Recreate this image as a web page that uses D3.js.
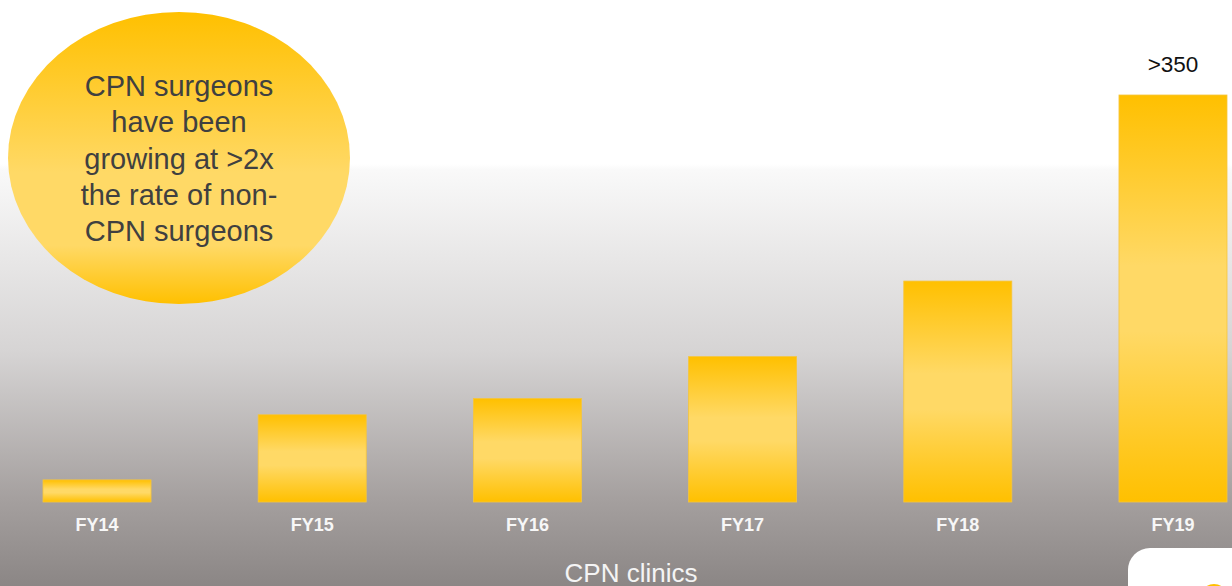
<!DOCTYPE html>
<html>
<head>
<meta charset="utf-8">
<script src="https://cdn.jsdelivr.net/npm/d3@7"></script>
<style>
  html, body { margin: 0; padding: 0; overflow: hidden; }
  svg { display: block; font-family: "Liberation Sans", Arial, sans-serif; }
</style>
</head>
<body>
<svg id="chart" width="1232" height="586"></svg>
<script>
// values (only FY19 is labelled: ">350")
const years = ["FY14", "FY15", "FY16", "FY17", "FY18", "FY19"];
const surgeons = [19, 75, 89, 125, 190, 350];
const topLabel = ">350";
const bubbleLines = ["CPN surgeons", "have been", "growing at >2x", "the rate of non-", "CPN surgeons"];
const axisTitle = "CPN clinics";

const W = 1232, H = 586;
const svg = d3.select("#chart");
const defs = svg.append("defs");

// background: white top, grey towards the bottom
const bg = defs.append("linearGradient").attr("id", "bg").attr("x1", 0).attr("x2", 0).attr("y1", 0).attr("y2", 1);
bg.append("stop").attr("offset", "0%").attr("stop-color", "#ffffff");
bg.append("stop").attr("offset", "28%").attr("stop-color", "#ffffff");
bg.append("stop").attr("offset", "29%").attr("stop-color", "#f9f9f9");
bg.append("stop").attr("offset", "60%").attr("stop-color", "#d6d4d4");
bg.append("stop").attr("offset", "85%").attr("stop-color", "#a5a09f");
bg.append("stop").attr("offset", "100%").attr("stop-color", "#8b8685");

// bars: darker at the edges, lighter in the middle
const barG = defs.append("linearGradient").attr("id", "barG").attr("x1", 0).attr("x2", 0).attr("y1", 0).attr("y2", 1);
barG.append("stop").attr("offset", "0%").attr("stop-color", "#ffc000");
barG.append("stop").attr("offset", "42%").attr("stop-color", "#ffd966");
barG.append("stop").attr("offset", "58%").attr("stop-color", "#ffd966");
barG.append("stop").attr("offset", "100%").attr("stop-color", "#ffc000");

const bubG = defs.append("linearGradient").attr("id", "bubG").attr("x1", 0).attr("x2", 0).attr("y1", 0).attr("y2", 1);
bubG.append("stop").attr("offset", "0%").attr("stop-color", "#ffc000");
bubG.append("stop").attr("offset", "55%").attr("stop-color", "#ffd966");
bubG.append("stop").attr("offset", "80%").attr("stop-color", "#ffd966");
bubG.append("stop").attr("offset", "100%").attr("stop-color", "#ffc000");

svg.append("rect").attr("width", W).attr("height", H).attr("fill", "url(#bg)");

const x = d3.scaleBand().domain(years).range([43, 1227]).paddingInner(0.498).paddingOuter(0);
const y = d3.scaleLinear().domain([0, 350]).range([502, 95]);

svg.selectAll("rect.bar")
  .data(surgeons)
  .enter()
  .append("rect")
  .attr("class", "bar")
  .attr("x", (d, i) => x(years[i]))
  .attr("y", d => y(d))
  .attr("width", x.bandwidth())
  .attr("height", d => y(0) - y(d))
  .attr("fill", "url(#barG)")
  .attr("stroke", "#f6c53c")
  .attr("stroke-width", 0.8);

svg.selectAll("text.cat")
  .data(years)
  .enter()
  .append("text")
  .attr("class", "cat")
  .attr("x", d => x(d) + x.bandwidth() / 2)
  .attr("y", 531)
  .attr("text-anchor", "middle")
  .attr("font-size", 18)
  .attr("font-weight", "bold")
  .attr("fill", "#f7f7f7")
  .text(d => d);

svg.append("text")
  .attr("x", x("FY19") + x.bandwidth() / 2)
  .attr("y", 72)
  .attr("text-anchor", "middle")
  .attr("font-size", 22.5)
  .attr("fill", "#111")
  .text(topLabel);

svg.append("text")
  .attr("x", 631)
  .attr("y", 582)
  .attr("text-anchor", "middle")
  .attr("font-size", 26)
  .attr("fill", "#f4f4f4")
  .text(axisTitle);

// callout bubble
svg.append("ellipse")
  .attr("cx", 179).attr("cy", 158).attr("rx", 171).attr("ry", 146)
  .attr("fill", "url(#bubG)");

svg.append("g").selectAll("text")
  .data(bubbleLines)
  .enter()
  .append("text")
  .attr("x", 179)
  .attr("y", (d, i) => 96 + i * 36.3)
  .attr("text-anchor", "middle")
  .attr("font-size", 29)
  .attr("fill", "#404040")
  .text(d => d);

// white card peeking in bottom right
svg.append("rect")
  .attr("x", 1128).attr("y", 548).attr("width", 140).attr("height", 80)
  .attr("rx", 22).attr("fill", "#ffffff");
svg.append("circle")
  .attr("cx", 1214).attr("cy", 598).attr("r", 14)
  .attr("fill", "#ffc000");
</script>
</body>
</html>
